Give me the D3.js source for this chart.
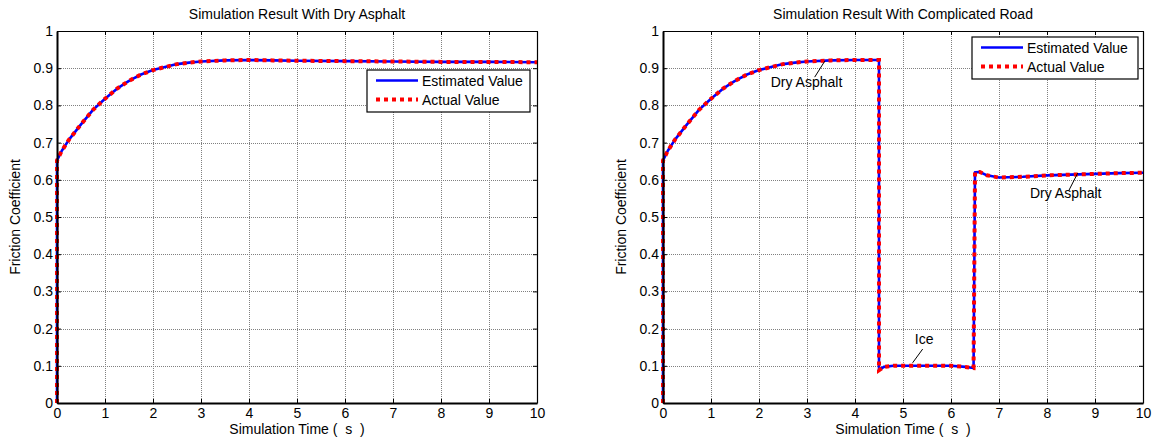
<!DOCTYPE html>
<html><head><meta charset="utf-8">
<script src="https://cdn.jsdelivr.net/npm/d3@7"></script>
<style>
body{margin:0;background:#fff;}
svg text{font-family:Arial,"Liberation Sans",Helvetica,sans-serif;fill:#000;white-space:pre;}
</style></head>
<body><svg id="c" width="1156" height="440"></svg>
<script>
// ---- data ----
const titles = ["Simulation Result With Dry Asphalt", "Simulation Result With Complicated Road"];
const xLabel = "Simulation Time (  s  )";
const yLabel = "Friction Coefficient";
const legendLabels = ["Estimated Value", "Actual Value"];
const xTicks = [0,1,2,3,4,5,6,7,8,9,10];
const yTicks = [0,0.1,0.2,0.3,0.4,0.5,0.6,0.7,0.8,0.9,1];

const timeDry = [0,0,0.1,0.25,0.5,0.75,1,1.25,1.5,1.75,2,2.25,2.5,2.75,3,3.5,4,4.5,5,6,7,8,9,10];
const estDry  = [0,0.652,0.678,0.708,0.749,0.788,0.818,0.845,0.866,0.883,0.895,0.903,0.911,0.915,0.918,0.921,0.922,0.921,0.92,0.919,0.918,0.917,0.917,0.916];
const actDry  = [0,0.652,0.678,0.708,0.749,0.788,0.818,0.845,0.866,0.883,0.895,0.903,0.911,0.915,0.918,0.921,0.922,0.921,0.92,0.919,0.918,0.917,0.917,0.916];

const timeMix = [0,0,0.1,0.25,0.5,0.75,1,1.25,1.5,1.75,2,2.25,2.5,2.75,3,3.5,4,4.5,4.5,4.6,4.8,5,5.5,6,6.3,6.47,6.5,6.6,6.75,7,7.5,8,8.5,9,9.5,10];
const estMix  = [0,0.652,0.678,0.708,0.749,0.788,0.818,0.845,0.866,0.883,0.895,0.903,0.911,0.915,0.918,0.921,0.922,0.922,0.088,0.097,0.1,0.1,0.1,0.1,0.097,0.094,0.62,0.621,0.612,0.606,0.608,0.612,0.614,0.616,0.618,0.619];
const actMix  = [0,0.652,0.678,0.708,0.749,0.788,0.818,0.845,0.866,0.883,0.895,0.903,0.911,0.915,0.918,0.921,0.922,0.922,0.088,0.097,0.1,0.1,0.1,0.1,0.097,0.094,0.62,0.621,0.612,0.606,0.608,0.612,0.614,0.616,0.618,0.619];

const annotText  = ["Dry Asphalt","Ice","Dry Asphalt"];
const annotPos   = [[2.99,0.863],[5.44,0.172],[8.39,0.565]];
const annotFrom  = [[3.16,0.876],[5.41,0.145],[8.45,0.570]];
const annotTo    = [[3.37,0.919],[5.20,0.108],[8.64,0.618]];

// ---- layout ----
const FS = "14px";
const svg = d3.select("#c");
const panels = [
  {left:57, right:537, top:31, bottom:403, t:timeDry, est:estDry, act:actDry, legend:{x:367,y:70,w:163,h:42}, annots:[]},
  {left:663, right:1143, top:31, bottom:403, t:timeMix, est:estMix, act:actMix, legend:{x:972,y:37,w:166,h:42}, annots:[0,1,2]}
];

panels.forEach((p,i)=>{
  const x = d3.scaleLinear().domain([0,10]).range([p.left,p.right]);
  const y = d3.scaleLinear().domain([0,1]).range([p.bottom,p.top]);
  const g = svg.append("g");
  const W = p.right-p.left, H = p.bottom-p.top;

  // grid
  const gridStyle = a=>{a.select(".domain").remove(); a.selectAll("line").attr("stroke","#808080").attr("stroke-dasharray","1,1").attr("shape-rendering","crispEdges");};
  g.append("g").attr("transform",`translate(0,${p.bottom})`)
    .call(d3.axisBottom(x).tickValues(xTicks).tickSize(-H).tickFormat("")).call(gridStyle);
  g.append("g").attr("transform",`translate(${p.left},0)`)
    .call(d3.axisLeft(y).tickValues(yTicks).tickSize(-W).tickFormat("")).call(gridStyle);

  // lines
  const line = d3.line().x((d,k)=>x(p.t[k])).y(d=>y(d));
  g.append("path").datum(p.est).attr("d",line).attr("fill","none").attr("stroke","#0000ff").attr("stroke-width",2.6).attr("stroke-linejoin","round");
  g.append("path").datum(p.act).attr("d",line).attr("fill","none").attr("stroke","#ff0000").attr("stroke-width",4).attr("stroke-dasharray","4,4");

  // axes (ticks inward on all sides)
  const styleAx = (a,w)=>{a.select(".domain").attr("stroke","#000").attr("stroke-width",w); a.selectAll(".tick line").attr("stroke","#000");
    a.selectAll("text").attr("font-size",FS).attr("fill","#000");};
  g.append("g").attr("transform",`translate(0,${p.bottom})`)
    .call(d3.axisBottom(x).tickValues(xTicks).tickSizeInner(-4).tickSizeOuter(0).tickPadding(5).tickFormat(d3.format("d")))
    .call(a=>styleAx(a,2));
  g.append("g").attr("transform",`translate(${p.left},0)`)
    .call(d3.axisLeft(y).tickValues(yTicks).tickSizeInner(-4).tickSizeOuter(0).tickPadding(4).tickFormat(d=>d===0?"0":d===1?"1":d3.format(".1f")(d)))
    .call(a=>styleAx(a,2));
  g.append("g").attr("transform",`translate(0,${p.top})`)
    .call(d3.axisTop(x).tickValues(xTicks).tickSizeInner(-4).tickSizeOuter(0).tickFormat(""))
    .call(a=>styleAx(a,1.2));
  g.append("g").attr("transform",`translate(${p.right},0)`)
    .call(d3.axisRight(y).tickValues(yTicks).tickSizeInner(-4).tickSizeOuter(0).tickFormat(""))
    .call(a=>styleAx(a,1.2));

  // titles and labels
  const cx = (p.left+p.right)/2;
  g.append("text").attr("x",cx).attr("y",19).attr("text-anchor","middle").attr("font-size",FS).text(titles[i]);
  g.append("text").attr("x",cx).attr("y",434).attr("text-anchor","middle").attr("font-size",FS).text(xLabel);
  g.append("text").attr("transform",`translate(${p.left-37},${(p.top+p.bottom)/2}) rotate(-90)`).attr("text-anchor","middle").attr("font-size",FS).text(yLabel);

  // legend
  const L = p.legend;
  const lg = g.append("g").attr("transform",`translate(${L.x},${L.y})`);
  lg.append("rect").attr("width",L.w).attr("height",L.h).attr("fill","#fff").attr("stroke","#000").attr("stroke-width",1.2);
  const rows = [{c:"#0000ff",w:2.6,da:null},{c:"#ff0000",w:4,da:"4,4"}];
  rows.forEach((r,k)=>{
    const yy = 10.5 + k*19;
    lg.append("line").attr("x1",9).attr("x2",51).attr("y1",yy).attr("y2",yy).attr("stroke",r.c).attr("stroke-width",r.w).attr("stroke-dasharray",r.da);
    lg.append("text").attr("x",55).attr("y",yy+5).attr("font-size",FS).text(legendLabels[k]);
  });

  // annotations
  p.annots.forEach(k=>{
    g.append("line").attr("x1",x(annotFrom[k][0])).attr("y1",y(annotFrom[k][1])).attr("x2",x(annotTo[k][0])).attr("y2",y(annotTo[k][1])).attr("stroke","#000").attr("stroke-width",1);
    g.append("text").attr("x",x(annotPos[k][0])).attr("y",y(annotPos[k][1])+5).attr("text-anchor","middle").attr("font-size",FS).text(annotText[k]);
  });
});
</script></body></html>
